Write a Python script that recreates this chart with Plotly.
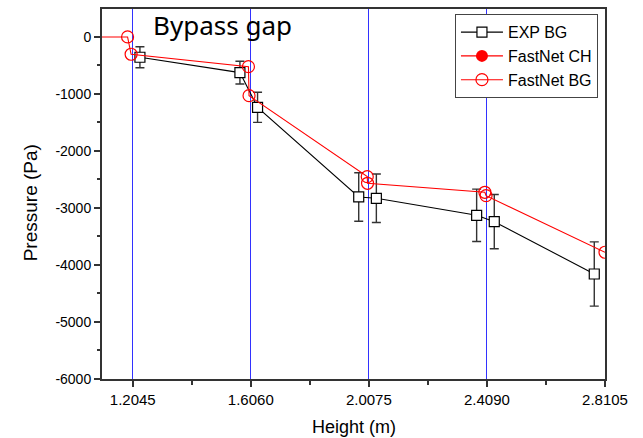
import plotly.graph_objects as go

# ---- data ----
x_tick_vals = [1.2045, 1.6060, 2.0075, 2.4090, 2.8105]
x_tick_text = ["1.2045", "1.6060", "2.0075", "2.4090", "2.8105"]
y_tick_vals = [-6000, -5000, -4000, -3000, -2000, -1000, 0]
y_tick_text = ["-6000", "-5000", "-4000", "-3000", "-2000", "-1000", "0"]

exp_bg_height = [1.229, 1.569, 1.629, 1.973, 2.033, 2.374, 2.434, 2.774]
exp_bg_pressure = [-356, -626, -1234, -2807, -2830, -3129, -3240, -4158]
exp_bg_error = [184, 200, 265, 426, 426, 460, 475, 564]

fastnet_ch_height = [None]
fastnet_ch_pressure = [None]

fastnet_bg_height = [1.0, 1.187, 1.199, 1.598, 1.600, 2.002, 2.003, 2.402, 2.406, 2.8105]
fastnet_bg_pressure = [0, 0, -304, -521, -1030, -2451, -2567, -2725, -2784, -3777]

FONT = "Liberation Sans, Arial, sans-serif"

fig = go.Figure()

fig.add_trace(go.Scatter(
    x=exp_bg_height, y=exp_bg_pressure, name="EXP BG", mode="lines+markers",
    line=dict(color="black", width=1.1),
    marker=dict(symbol="square", size=10, color="white", line=dict(color="black", width=1.2)),
    error_y=dict(type="data", array=exp_bg_error, visible=True, color="#333333", thickness=1.4, width=4.5),
))
fig.add_trace(go.Scatter(
    x=fastnet_ch_height, y=fastnet_ch_pressure, name="FastNet CH", mode="lines+markers",
    line=dict(color="red", width=1.1),
    marker=dict(symbol="circle", size=12, color="red"),
))
fig.add_trace(go.Scatter(
    x=fastnet_bg_height, y=fastnet_bg_pressure, name="FastNet BG", mode="lines+markers",
    line=dict(color="red", width=1.1),
    marker=dict(symbol="circle", size=12, color="rgba(255,255,255,0)", line=dict(color="red", width=1.2)),
))

fig.add_annotation(
    text="Bypass gap", xref="paper", yref="paper", x=0.097, y=0.957,
    xanchor="left", yanchor="middle", showarrow=False,
    font=dict(family="Noto Sans, Open Sans, sans-serif", size=26, color="black"),
)
fig.add_annotation(
    text="Height (m)", xref="paper", yref="paper", x=0.5, y=-0.13,
    xanchor="center", yanchor="middle", showarrow=False,
    font=dict(family=FONT, size=18, color="black"),
)
fig.add_annotation(
    text="Pressure (Pa)", xref="paper", yref="paper", x=-0.1415, y=0.477,
    xanchor="center", yanchor="middle", showarrow=False, textangle=-90,
    font=dict(family=FONT, size=19, color="black"),
)

fig.update_layout(
    width=643, height=438,
    margin=dict(l=102, r=38, t=9, b=59, autoexpand=False),
    paper_bgcolor="white", plot_bgcolor="white",
    font=dict(family=FONT, size=14, color="black"),
    legend=dict(
        x=0.986, y=0.986, xanchor="right", yanchor="top",
        bgcolor="white", bordercolor="#444444", borderwidth=1,
        font=dict(family=FONT, size=16, color="black"),
        tracegroupgap=0, itemwidth=42,
    ),
    xaxis=dict(
        range=[1.1, 2.8105],
        tickvals=x_tick_vals, ticktext=x_tick_text,
        showgrid=True, gridcolor="rgb(50,50,255)", gridwidth=1,
        showline=True, linecolor="#333333", linewidth=2, mirror=True,
        ticks="outside", ticklen=6, tickwidth=1.5, tickcolor="#333333",
        minor=dict(dtick=0.20075, tick0=1.2045, ticks="outside", ticklen=4, tickcolor="#333333", showgrid=False),
        zeroline=False, automargin=False,
        tickfont=dict(family=FONT, size=15),
    ),
    yaxis=dict(
        range=[-6000, 490],
        tickvals=y_tick_vals, ticktext=y_tick_text,
        showgrid=False,
        showline=True, linecolor="#333333", linewidth=2, mirror=True,
        ticks="outside", ticklen=6, tickwidth=1.5, tickcolor="#333333",
        minor=dict(dtick=500, tick0=0, ticks="outside", ticklen=3, tickcolor="#333333", showgrid=False),
        zeroline=False, automargin=False,
        tickfont=dict(family=FONT, size=14),
    ),
)

fig.write_html("out.html")
